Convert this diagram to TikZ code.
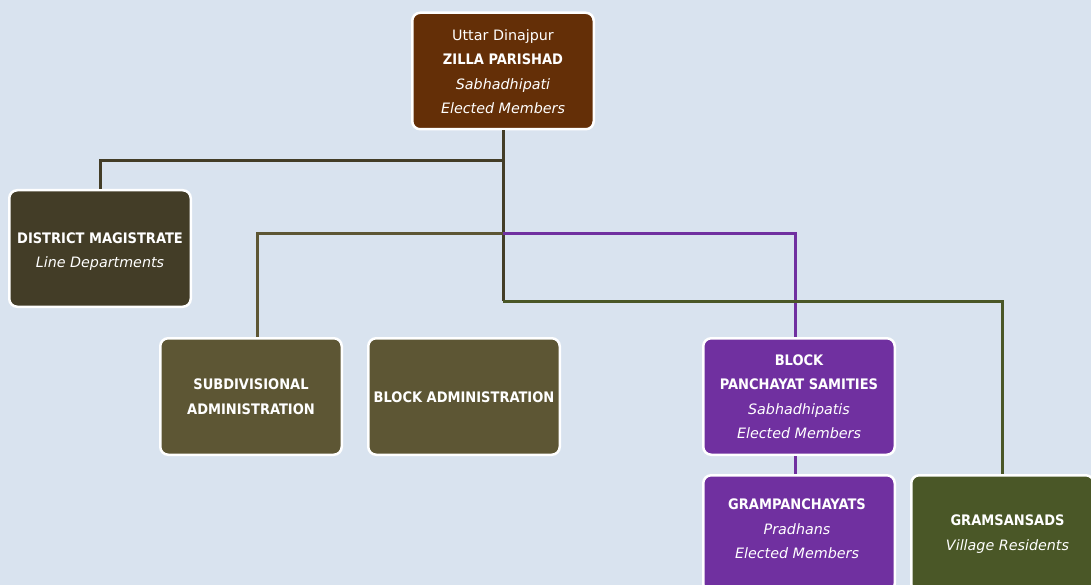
\documentclass[tikz,border=0pt]{standalone}
\usepackage{fontspec}
\setmainfont{DejaVu Sans}[BoldFont={DejaVu Sans Condensed Bold}]
\usetikzlibrary{calc}
\definecolor{bg}{HTML}{D9E3EF}
\definecolor{brownz}{HTML}{642F07}
\definecolor{darkol}{HTML}{433D27}
\definecolor{olive}{HTML}{5D5634}
\definecolor{purp}{HTML}{7030A0}
\definecolor{grn}{HTML}{4A5727}
\tikzset{
  box/.style={draw=white, line width=2.5pt, rounded corners=8pt, minimum height=116.5pt, inner sep=0pt},
  txt/.style={text=white, align=center, inner sep=0pt, font=\fontsize{14.3}{24.5}\selectfont},
  conn/.style={line width=3pt}
}
\newcommand{\bt}[1]{{\fontsize{14.5}{24.5}\selectfont\bfseries #1}}
\begin{document}
\begin{tikzpicture}[x=1pt,y=-1pt]
\fill[bg] (0,0) rectangle (1091,585);
\useasboundingbox (0,0) rectangle (1091,585);
\coordinate (j1) at (503,161);
\coordinate (j2) at (503,234);
\coordinate (j3) at (503,301);
\node[box, fill=brownz, minimum width=181.5pt] (zp) at (503,71) {};
\node[txt] (zpt) at ($(zp.center)+(0,0.5)$)
  {Uttar Dinajpur\\\bt{ZILLA PARISHAD}\\\textit{Sabhadhipati}\\\textit{Elected Members}};
\node[box, fill=darkol, minimum width=181.5pt] (dm) at (100,248.5) {};
\node[txt] (dmt) at ($(dm.center)+(0,3)$)
  {\bt{DISTRICT MAGISTRATE}\\\textit{Line Departments}};
\node[box, fill=olive, minimum width=181.5pt] (sub) at (251,396.5) {};
\node[txt] (subt) at (sub.center) {\bt{SUBDIVISIONAL}\\\bt{ADMINISTRATION}};
\node[box, fill=olive, minimum width=191.5pt] (ba) at (464,396.5) {};
\node[txt] (bat) at ($(ba.center)+(0,0.5)$) {\bt{BLOCK ADMINISTRATION}};
\node[box, fill=purp, minimum width=191.5pt] (bps) at (799,396.5) {};
\node[txt] (bpst) at (bps.center)
  {\bt{BLOCK}\\\bt{PANCHAYAT SAMITIES}\\\textit{Sabhadhipatis}\\\textit{Elected Members}};
\node[box, fill=purp, minimum width=191.5pt] (gp) at (799,533.5) {};
\node[txt] (gpt) at ($(gp.center)+(-2,-4.5)$)
  {\bt{GRAMPANCHAYATS}\\\textit{Pradhans}\\\textit{Elected Members}};
\node[box, fill=grn, minimum width=182.5pt] (gs) at (1002.5,533.5) {};
\node[txt] (gst) at ($(gs.center)+(5,0.5)$)
  {\bt{GRAMSANSADS}\\\textit{Village Residents}};
\draw[conn, darkol] (zp.south) -- (j3);
\draw[conn, darkol] (j1) -| (dm.north);
\draw[conn, olive] (j2) -| ($(sub.north)+(6,0)$);
\draw[conn, olive] ($(ba.north)+(-4,0)$) -- ($(ba.north)+(-4,0)$ |- j2);
\draw[conn, purp] (j2) -| ($(bps.north)+(-4,0)$);
\draw[conn, purp] ($(bps.south)+(-4,0)$) -- ($(gp.north)+(-4,0)$);
\draw[conn, grn] (j3) -| (gs.north);
\end{tikzpicture}
\end{document}
